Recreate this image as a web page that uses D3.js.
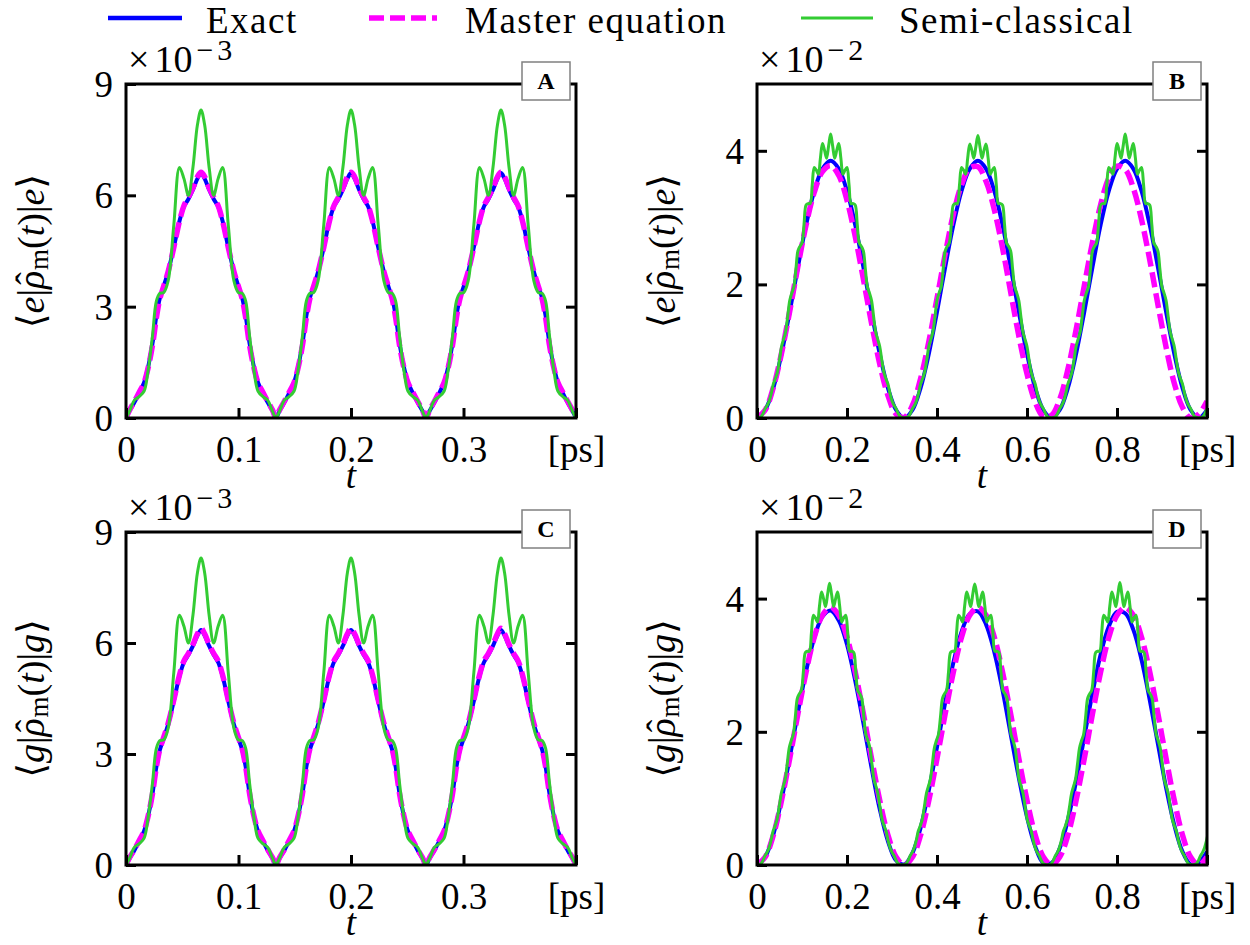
<!DOCTYPE html>
<html><head><meta charset="utf-8">
<script src="https://cdn.jsdelivr.net/npm/d3@7"></script>
<style>
body{margin:0;background:#fff;}
svg text{font-family:"Liberation Serif","DejaVu Serif","Noto Serif",serif;fill:#000;}
</style></head><body>
<svg id="c" width="1250" height="945" font-family="Liberation Serif, DejaVu Serif, serif"></svg>
<script>
// ---------------- data ----------------
const legendLabels = ["Exact", "Master equation", "Semi-classical"];
const panelLetters = ["A", "B", "C", "D"];
const xTicksAC = [0, 0.1, 0.2, 0.3, 0.4];
const xTickLabelsAC = ["0", "0.1", "0.2", "0.3", "[ps]"];
const yTicksAC = [0, 3, 6, 9];
const yTickLabelsAC = ["0", "3", "6", "9"];
const xTicksBD = [0, 0.2, 0.4, 0.6, 0.8, 1.0];
const xTickLabelsBD = ["0", "0.2", "0.4", "0.6", "0.8", "[ps]"];
const yTicksBD = [0, 2, 4];
const yTickLabelsBD = ["0", "2", "4"];
const exponentAC = "\u22123";
const exponentBD = "\u22122";

// panels A and C: time in ps, values in units of 1e-3
const tAC = [0,0.003,0.0075,0.0115,0.016,0.0195,0.0235,0.027,0.03,0.0335,0.0375,0.0425,0.0475,0.0515,0.0555,0.0595,0.0635,0.0667,0.0699,0.0739,0.0779,0.0819,0.0859,0.0909,0.0959,0.0999,0.1034,0.1064,0.1099,0.1139,0.1174,0.1219,0.1259,0.1304,
0.1333,0.1363,0.1408,0.1448,0.1493,0.1528,0.1568,0.1603,0.1633,0.1668,0.1708,0.1758,0.1808,0.1848,0.1888,0.1928,0.1968,0.2,0.2032,0.2072,0.2112,0.2152,0.2192,0.2242,0.2292,0.2332,0.2367,0.2397,0.2432,0.2472,0.2507,0.2552,0.2592,0.2637,
0.2667,0.2697,0.2742,0.2782,0.2827,0.2862,0.2902,0.2937,0.2967,0.3002,0.3042,0.3092,0.3142,0.3182,0.3222,0.3262,0.3302,0.3333,0.3365,0.3405,0.3445,0.3485,0.3525,0.3575,0.3625,0.3665,0.37,0.373,0.3765,0.3805,0.384,0.3885,0.3925,0.397,
0.4];

const exactA = [0,0.18,0.42,0.66,0.95,1.35,2.0,2.75,3.22,3.55,3.95,4.6,5.3,5.7,5.9,6.15,6.45,6.6,6.45,6.15,5.9,5.7,5.3,4.6,3.95,3.55,3.22,2.75,2.0,1.35,0.95,0.66,0.42,0.18,
0,0.18,0.42,0.66,0.95,1.35,2.0,2.75,3.22,3.55,3.95,4.6,5.3,5.7,5.9,6.15,6.45,6.6,6.45,6.15,5.9,5.7,5.3,4.6,3.95,3.55,3.22,2.75,2.0,1.35,0.95,0.66,0.42,0.18,
0,0.18,0.42,0.66,0.95,1.35,2.0,2.75,3.22,3.55,3.95,4.6,5.3,5.7,5.9,6.15,6.45,6.6,6.45,6.15,5.9,5.7,5.3,4.6,3.95,3.55,3.22,2.75,2.0,1.35,0.95,0.66,0.42,0.18,
0];
const masterA = [0,0.2,0.45,0.68,0.95,1.33,1.95,2.7,3.2,3.55,3.95,4.6,5.3,5.72,5.95,6.2,6.5,6.62,6.5,6.2,5.95,5.72,5.3,4.6,3.95,3.55,3.2,2.7,1.95,1.33,0.95,0.68,0.45,0.2,
0,0.2,0.45,0.68,0.95,1.33,1.95,2.7,3.2,3.55,3.95,4.6,5.3,5.72,5.95,6.2,6.5,6.62,6.5,6.2,5.95,5.72,5.3,4.6,3.95,3.55,3.2,2.7,1.95,1.33,0.95,0.68,0.45,0.2,
0,0.2,0.45,0.68,0.95,1.33,1.95,2.7,3.2,3.55,3.95,4.6,5.3,5.72,5.95,6.2,6.5,6.62,6.5,6.2,5.95,5.72,5.3,4.6,3.95,3.55,3.2,2.7,1.95,1.33,0.95,0.68,0.45,0.2,
0];
const semiA = [0,0.17,0.48,0.57,0.72,1.25,2.2,3.15,3.36,3.38,3.7,5.2,6.75,6.45,6.0,6.75,7.9,8.3,7.9,6.75,6.0,6.45,6.75,5.2,3.7,3.38,3.36,3.15,2.2,1.25,0.72,0.57,0.48,0.17,
0,0.17,0.48,0.57,0.72,1.25,2.2,3.15,3.36,3.38,3.7,5.2,6.75,6.45,6.0,6.75,7.9,8.3,7.9,6.75,6.0,6.45,6.75,5.2,3.7,3.38,3.36,3.15,2.2,1.25,0.72,0.57,0.48,0.17,
0,0.17,0.48,0.57,0.72,1.25,2.2,3.15,3.36,3.38,3.7,5.2,6.75,6.45,6.0,6.75,7.9,8.3,7.9,6.75,6.0,6.45,6.75,5.2,3.7,3.38,3.36,3.15,2.2,1.25,0.72,0.57,0.48,0.17,
0];
const exactC = [0,0.17,0.4,0.63,0.91,1.3,1.92,2.65,3.1,3.42,3.8,4.43,5.1,5.48,5.68,5.92,6.2,6.35,6.2,5.92,5.68,5.48,5.1,4.43,3.8,3.42,3.1,2.65,1.92,1.3,0.91,0.63,0.4,0.17,
0,0.17,0.4,0.63,0.91,1.3,1.92,2.65,3.1,3.42,3.8,4.43,5.1,5.48,5.68,5.92,6.2,6.35,6.2,5.92,5.68,5.48,5.1,4.43,3.8,3.42,3.1,2.65,1.92,1.3,0.91,0.63,0.4,0.17,
0,0.17,0.4,0.63,0.91,1.3,1.92,2.65,3.1,3.42,3.8,4.43,5.1,5.48,5.68,5.92,6.2,6.35,6.2,5.92,5.68,5.48,5.1,4.43,3.8,3.42,3.1,2.65,1.92,1.3,0.91,0.63,0.4,0.17,
0];
const masterC = [0,0.19,0.42,0.65,0.92,1.3,1.92,2.65,3.12,3.45,3.83,4.46,5.13,5.52,5.72,5.96,6.25,6.4,6.25,5.96,5.72,5.52,5.13,4.46,3.83,3.45,3.12,2.65,1.92,1.3,0.92,0.65,0.42,0.19,
0,0.19,0.42,0.65,0.92,1.3,1.92,2.65,3.12,3.45,3.83,4.46,5.13,5.52,5.72,5.96,6.25,6.4,6.25,5.96,5.72,5.52,5.13,4.46,3.83,3.45,3.12,2.65,1.92,1.3,0.92,0.65,0.42,0.19,
0,0.19,0.42,0.65,0.92,1.3,1.92,2.65,3.12,3.45,3.83,4.46,5.13,5.52,5.72,5.96,6.25,6.4,6.25,5.96,5.72,5.52,5.13,4.46,3.83,3.45,3.12,2.65,1.92,1.3,0.92,0.65,0.42,0.19,
0];
const semiC = [0,0.17,0.48,0.57,0.72,1.25,2.2,3.15,3.36,3.38,3.7,5.2,6.75,6.45,6.0,6.75,7.9,8.3,7.9,6.75,6.0,6.45,6.75,5.2,3.7,3.38,3.36,3.15,2.2,1.25,0.72,0.57,0.48,0.17,
0,0.17,0.48,0.57,0.72,1.25,2.2,3.15,3.36,3.38,3.7,5.2,6.75,6.45,6.0,6.75,7.9,8.3,7.9,6.75,6.0,6.45,6.75,5.2,3.7,3.38,3.36,3.15,2.2,1.25,0.72,0.57,0.48,0.17,
0,0.17,0.48,0.57,0.72,1.25,2.2,3.15,3.36,3.38,3.7,5.2,6.75,6.45,6.0,6.75,7.9,8.3,7.9,6.75,6.0,6.45,6.75,5.2,3.7,3.38,3.36,3.15,2.2,1.25,0.72,0.57,0.48,0.17,
0];

// panels B and D: time in ps, values in units of 1e-2
const tCoarseBD = [0,0.0182,0.0364,0.0545,0.0727,0.0909,0.1091,0.1273,0.1455,0.1636,0.1818,0.2,0.2182,0.2364,0.2545,0.2727,0.2909,0.3091,0.3273,0.3455,0.3636,0.3818,0.4,0.4182,0.4364,0.4545,0.4727,0.4909,0.5091,0.5273,0.5455,0.5636,0.5818,0.6,0.6182,0.6364,0.6545,0.6727,0.6909,0.7091,0.7273,0.7455,0.7636,0.7818,0.8,0.8182,0.8364,0.8545,0.8727,0.8909,0.9091,0.9273,0.9455,0.9636,0.9818,1];
const exactB = [0,0.12,0.45,0.96,1.59,2.26,2.89,3.40,3.73,3.85,3.73,3.40,2.89,2.26,1.59,0.96,0.45,0.12,0,
0.12,0.45,0.96,1.59,2.26,2.89,3.40,3.73,3.85,3.73,3.40,2.89,2.26,1.59,0.96,0.45,0.12,0,
0.12,0.45,0.96,1.59,2.26,2.89,3.40,3.73,3.85,3.73,3.40,2.89,2.26,1.59,0.96,0.45,0.12,0,
0.12];
const masterB = [0,0.12,0.46,0.97,1.60,2.27,2.89,3.38,3.69,3.78,3.63,3.26,2.72,2.08,1.42,0.81,0.34,0.06,0.01,0.19,
0.59,1.14,1.79,2.45,3.05,3.49,3.74,3.76,3.54,3.12,2.55,1.89,1.23,0.66,0.24,0.02,0.04,0.28,0.73,1.32,
1.98,2.63,3.19,3.59,3.77,3.72,3.44,2.97,2.37,1.70,1.06,0.52,0.16,0.00,0.06,0.25];
const exactD = [0,0.12,0.46,0.98,1.61,2.29,2.91,3.41,3.73,3.82,3.67,3.31,2.77,2.13,1.46,0.84,0.36,0.07,0.01,0.18,
0.56,1.12,1.77,2.44,3.04,3.50,3.77,3.81,3.61,3.20,2.63,1.97,1.31,0.72,0.28,0.03,0.03,0.25,0.68,1.26,
1.92,2.58,3.16,3.58,3.80,3.78,3.53,3.08,2.48,1.82,1.16,0.60,0.20,0.01,0.04,0.2];
const masterD = [0,0.12,0.45,0.97,1.60,2.27,2.90,3.42,3.75,3.87,3.75,3.42,2.90,2.27,1.60,0.97,0.45,0.12,0,
0.12,0.45,0.97,1.60,2.27,2.90,3.42,3.75,3.87,3.75,3.42,2.90,2.27,1.60,0.97,0.45,0.12,0,
0.12,0.45,0.97,1.60,2.27,2.90,3.42,3.75,3.87,3.75,3.42,2.90,2.27,1.60,0.97,0.45,0.12,0,
0.12];
// semi-classical curves are sampled on a finer time grid
const tFineB = d3.range(221).map(k => k / 220);
const semiB = [0,0.01,0.02,0.07,0.14,0.19,0.26,0.37,0.51,0.59,0.69,0.87,1.07,1.18,1.29,1.52,1.76,1.87,1.96,2.22,2.50,2.57,2.62,2.90,3.19,3.21,3.21,3.49,3.75,3.71,3.65,3.89,4.11,4.01,3.89,4.07,4.25,4.07,3.89,4.01,4.11,3.89,3.65,3.71,3.75,3.49,3.21,3.21,3.19,2.90,2.62,2.57,2.50,2.22,1.96,1.87,1.76,1.52,1.29,1.18,1.07,0.87,0.69,0.59,0.51,0.37,0.26,0.19,0.14,0.07,0.02,0.01,
0,0.01,0.02,0.07,0.14,0.19,0.26,0.37,0.51,0.59,0.69,0.87,1.07,1.18,1.29,1.52,1.76,1.87,1.96,2.22,2.50,2.57,2.62,2.90,3.19,3.21,3.21,3.49,3.75,3.71,3.65,3.89,4.10,4.01,3.89,4.06,4.23,4.06,3.89,4.01,4.10,3.89,3.65,3.71,3.75,3.49,3.21,3.21,3.19,2.90,2.62,2.57,2.50,2.22,1.96,1.87,1.76,1.52,1.29,1.18,1.07,0.87,0.69,0.59,0.51,0.37,0.26,0.19,0.14,0.07,0.02,0.01,
0,0.01,0.02,0.07,0.14,0.19,0.26,0.37,0.51,0.59,0.69,0.87,1.07,1.18,1.29,1.52,1.76,1.87,1.96,2.22,2.50,2.57,2.62,2.90,3.19,3.21,3.21,3.49,3.75,3.71,3.65,3.89,4.11,4.01,3.89,4.07,4.25,4.07,3.89,4.01,4.11,3.89,3.65,3.71,3.75,3.49,3.21,3.21,3.19,2.90,2.62,2.57,2.50,2.22,1.96,1.87,1.76,1.52,1.29,1.18,1.07,0.87,0.69,0.59,0.51,0.37,0.26,0.19,0.14,0.07,0.02,0.01,
0,0.01,0.02,0.07,0.14];
const tFineD = d3.range(225).map(k => k * 0.00448);
const semiD = [0,0.01,0.02,0.07,0.14,0.19,0.26,0.37,0.51,0.59,0.69,0.87,1.07,1.18,1.29,1.52,1.76,1.87,1.96,2.22,2.50,2.57,2.62,2.90,3.19,3.21,3.21,3.49,3.75,3.71,3.65,3.89,4.10,4.00,3.88,4.06,4.23,4.06,3.88,4.00,4.10,3.89,3.65,3.71,3.75,3.49,3.21,3.21,3.19,2.90,2.62,2.57,2.50,2.22,1.96,1.87,1.76,1.52,1.29,1.18,1.07,0.87,0.69,0.59,0.51,0.37,0.26,0.19,0.14,0.07,0.02,0.01,
0,0.01,0.02,0.07,0.14,0.19,0.26,0.37,0.51,0.59,0.69,0.87,1.07,1.18,1.29,1.52,1.76,1.87,1.96,2.22,2.50,2.57,2.62,2.90,3.19,3.21,3.21,3.49,3.75,3.71,3.65,3.89,4.10,4.00,3.88,4.06,4.22,4.06,3.88,4.00,4.10,3.89,3.65,3.71,3.75,3.49,3.21,3.21,3.19,2.90,2.62,2.57,2.50,2.22,1.96,1.87,1.76,1.52,1.29,1.18,1.07,0.87,0.69,0.59,0.51,0.37,0.26,0.19,0.14,0.07,0.02,0.01,
0,0.01,0.02,0.07,0.14,0.19,0.26,0.37,0.51,0.59,0.69,0.87,1.07,1.18,1.29,1.52,1.76,1.87,1.96,2.22,2.50,2.57,2.62,2.90,3.19,3.21,3.21,3.49,3.75,3.71,3.65,3.89,4.10,4.00,3.88,4.06,4.24,4.06,3.88,4.00,4.10,3.89,3.65,3.71,3.75,3.49,3.21,3.21,3.19,2.90,2.62,2.57,2.50,2.22,1.96,1.87,1.76,1.52,1.29,1.18,1.07,0.87,0.69,0.59,0.51,0.37,0.26,0.19,0.14,0.07,0.02,0.01,
0,0.01,0.02,0.07,0.14,0.19,0.26,0.37,0.51];

// ---------------- styling / layout ----------------
const FONT = "Liberation Serif, DejaVu Serif, serif";
const BLUE = "#0000ff", MAGENTA = "#ff00ff", GREEN = "#33cc33";
const svg = d3.select("#c");

const panels = [
  {letter: panelLetters[0], x0: 126, x1: 576, y0: 84, y1: 418, xmax: 0.4, ymax: 9,
   xTicks: xTicksAC, xLabels: xTickLabelsAC, yTicks: yTicksAC, yLabels: yTickLabelsAC, exp: exponentAC, state: "e",
   tE: tAC, exact: exactA, tM: tAC, master: masterA, tS: tAC, semi: semiA},
  {letter: panelLetters[1], x0: 757, x1: 1207, y0: 84, y1: 418, xmax: 1.0, ymax: 5,
   xTicks: xTicksBD, xLabels: xTickLabelsBD, yTicks: yTicksBD, yLabels: yTickLabelsBD, exp: exponentBD, state: "e",
   tE: tCoarseBD, exact: exactB, tM: tCoarseBD, master: masterB, tS: tFineB, semi: semiB},
  {letter: panelLetters[2], x0: 126, x1: 576, y0: 532, y1: 865, xmax: 0.4, ymax: 9,
   xTicks: xTicksAC, xLabels: xTickLabelsAC, yTicks: yTicksAC, yLabels: yTickLabelsAC, exp: exponentAC, state: "g",
   tE: tAC, exact: exactC, tM: tAC, master: masterC, tS: tAC, semi: semiC},
  {letter: panelLetters[3], x0: 757, x1: 1207, y0: 532, y1: 865, xmax: 1.0, ymax: 5,
   xTicks: xTicksBD, xLabels: xTickLabelsBD, yTicks: yTicksBD, yLabels: yTickLabelsBD, exp: exponentBD, state: "g",
   tE: tCoarseBD, exact: exactD, tM: tCoarseBD, master: masterD, tS: tFineD, semi: semiD}
];

const defs = svg.append("defs");

panels.forEach(p => {
  const x = d3.scaleLinear().domain([0, p.xmax]).range([p.x0, p.x1]);
  const y = d3.scaleLinear().domain([0, p.ymax]).range([p.y1, p.y0]);
  const g = svg.append("g");
  const clipId = "clip" + p.letter;
  defs.append("clipPath").attr("id", clipId).append("rect")
    .attr("x", p.x0).attr("y", p.y0).attr("width", p.x1 - p.x0).attr("height", p.y1 - p.y0);

  const mk = ts => d3.line().x((d, i) => x(ts[i])).y(d => y(d)).curve(d3.curveCatmullRom.alpha(0.5));
  const cg = g.append("g").attr("clip-path", `url(#${clipId})`);
  cg.append("path").attr("d", mk(p.tE)(p.exact)).attr("fill", "none")
    .attr("stroke", BLUE).attr("stroke-width", 4).attr("stroke-linejoin", "round");
  cg.append("path").attr("d", mk(p.tM)(p.master)).attr("fill", "none")
    .attr("stroke", MAGENTA).attr("stroke-width", 5.5).attr("stroke-dasharray", "15,6");
  cg.append("path").attr("d", mk(p.tS)(p.semi)).attr("fill", "none")
    .attr("stroke", GREEN).attr("stroke-width", 3).attr("stroke-linejoin", "round");

  // axes (ticks inside)
  const xa = g.append("g").attr("transform", `translate(0,${p.y1})`)
    .call(d3.axisBottom(x).tickValues(p.xTicks).tickFormat((d, i) => p.xLabels[i]).tickSizeInner(-10).tickSizeOuter(0));
  xa.select(".domain").remove();
  xa.attr("font-size", 37).attr("font-family", FONT);
  xa.selectAll(".tick line").attr("stroke-width", 3);
  xa.selectAll(".tick text").attr("y", 44).attr("dy", null).attr("font-family", FONT);

  const ya = g.append("g").attr("transform", `translate(${p.x0},0)`)
    .call(d3.axisLeft(y).tickValues(p.yTicks).tickFormat((d, i) => p.yLabels[i]).tickSizeInner(-10).tickSizeOuter(0));
  ya.select(".domain").remove();
  ya.attr("font-size", 37).attr("font-family", FONT);
  ya.selectAll(".tick line").attr("stroke-width", 3);
  ya.selectAll(".tick text").attr("x", -13).attr("dy", "0.34em").attr("font-family", FONT);

  const ra = g.append("g").attr("transform", `translate(${p.x1},0)`)
    .call(d3.axisRight(y).tickValues(p.yTicks.filter(v => v > 0 && v < p.ymax)).tickFormat("").tickSizeInner(-10).tickSizeOuter(0));
  ra.select(".domain").remove();
  ra.selectAll(".tick line").attr("stroke-width", 3);

  // frame
  g.append("rect").attr("x", p.x0).attr("y", p.y0).attr("width", p.x1 - p.x0).attr("height", p.y1 - p.y0)
    .attr("fill", "none").attr("stroke", "#000").attr("stroke-width", 3);

  // exponent label
  const ex = g.append("text").attr("x", p.x0 + 2).attr("y", p.y0 - 12).attr("font-size", 38).attr("font-family", FONT);
  ex.append("tspan").text("\u00d7");
  ex.append("tspan").attr("dx", 5).text("10");
  ex.append("tspan").attr("font-size", 30).attr("dy", -12).attr("dx", 4).attr("letter-spacing", 4).text(p.exp);

  // panel letter box
  const bw = 48, bh = 38;
  g.append("rect").attr("x", p.x1 - 6 - bw).attr("y", p.y0 - 22).attr("width", bw).attr("height", bh)
    .attr("fill", "#fff").attr("stroke", "#808080").attr("stroke-width", 1.5);
  g.append("text").attr("x", p.x1 - 6 - bw / 2).attr("y", p.y0 - 22 + bh / 2)
    .attr("text-anchor", "middle").attr("dominant-baseline", "central").attr("font-family", FONT)
    .attr("font-size", 24).attr("font-weight", "bold").text(p.letter);

  // x label
  g.append("text").attr("x", (p.x0 + p.x1) / 2).attr("y", p.y1 + 70).attr("font-family", FONT)
    .attr("text-anchor", "middle").attr("font-size", 37).attr("font-style", "italic").text("t");

  // y label
  const yl = g.append("text").attr("font-family", FONT)
    .attr("transform", `translate(${p.x0 - 95},${(p.y0 + p.y1) / 2}) rotate(-90)`)
    .attr("text-anchor", "middle").attr("dominant-baseline", "central").attr("font-size", 38);
  yl.append("tspan").text("\u27e8");
  yl.append("tspan").attr("font-style", "italic").text(p.state);
  yl.append("tspan").text("|");
  yl.append("tspan").attr("font-style", "italic").text("\u03c1");
  yl.append("tspan").attr("dx", -14).attr("dy", -2).text("\u02c6");
  yl.append("tspan").attr("font-size", 27).attr("dx", 2).attr("dy", 10).text("m");
  yl.append("tspan").attr("dy", -8).text("(");
  yl.append("tspan").attr("font-style", "italic").text("t");
  yl.append("tspan").text(")|");
  yl.append("tspan").attr("font-style", "italic").text(p.state);
  yl.append("tspan").text("\u27e9");
});

// legend
const leg = svg.append("g");
const legItems = [
  {label: legendLabels[0], color: BLUE, w: 4.5, dash: null, lx0: 108, lx1: 182, tx: 206},
  {label: legendLabels[1], color: MAGENTA, w: 5.5, dash: "15,6", lx0: 369, lx1: 437, tx: 465},
  {label: legendLabels[2], color: GREEN, w: 3, dash: null, lx0: 801, lx1: 873, tx: 899}
];
legItems.forEach(it => {
  leg.append("line").attr("x1", it.lx0).attr("x2", it.lx1).attr("y1", 18).attr("y2", 18)
    .attr("stroke", it.color).attr("stroke-width", it.w).attr("stroke-dasharray", it.dash);
  leg.append("text").attr("x", it.tx).attr("y", 33).attr("font-size", 37).attr("font-family", FONT)
    .attr("letter-spacing", 1.5).text(it.label);
});
</script></body></html>
